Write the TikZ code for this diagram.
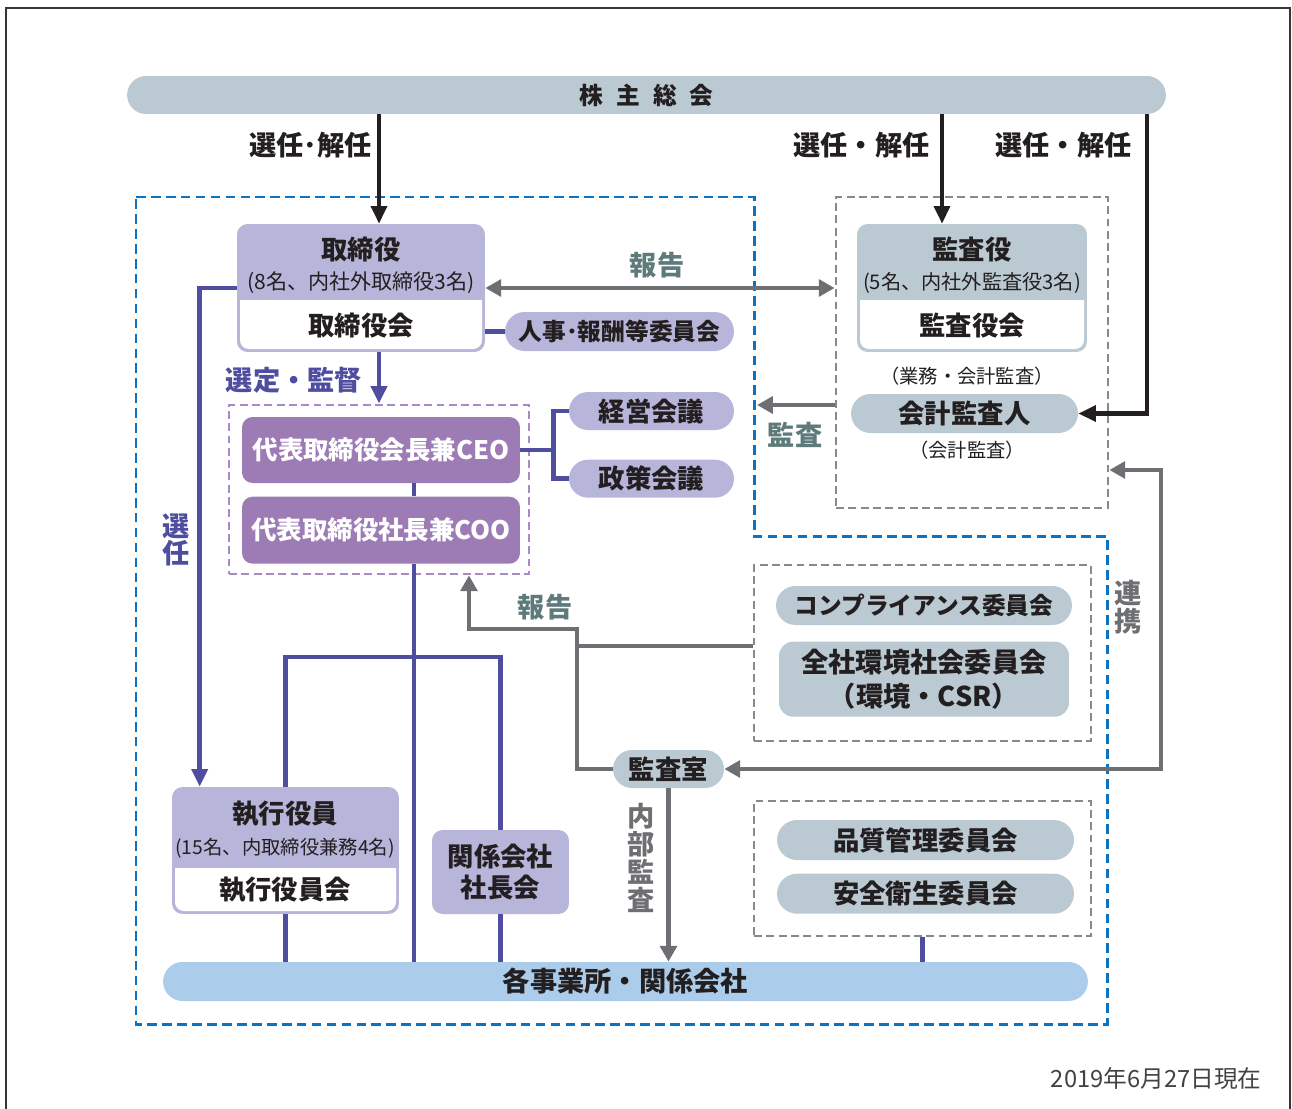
\documentclass[tikz,border=0pt]{standalone}
\usepackage{fontspec}
\setmainfont{Noto Sans CJK JP}
\usepackage{xcolor}
\usepackage{tikz}
\usetikzlibrary{positioning,arrows.meta,calc,shapes.misc}

\definecolor{lav}{HTML}{B8B5DA}
\definecolor{purp}{HTML}{9D7BB5}
\definecolor{bgray}{HTML}{BAC9D2}
\definecolor{lblue}{HTML}{ABCCEA}
\definecolor{pline}{HTML}{4F4DA0}
\definecolor{garr}{HTML}{6E6F72}
\definecolor{tgray}{HTML}{5E7A7A}
\definecolor{dblue}{HTML}{0A74C2}
\definecolor{dgray}{HTML}{898989}
\definecolor{dpurp}{HTML}{A98AC6}
\definecolor{ink}{HTML}{231F20}

\begin{document}
\begin{tikzpicture}[
  x=0.02cm, y=-0.02cm,
  block/.style={rectangle, inner sep=0pt, align=center, text=ink, font=\fontsize{15}{18}\selectfont\bfseries},
  lavbox/.style={block, fill=lav, rounded corners=6pt},
  bgbox/.style={block, fill=bgray, rounded corners=6pt},
  ceob/.style={block, fill=purp, rounded corners=6pt, text=white, font=\fontsize{14.5}{17}\selectfont\bfseries, minimum width=5.56cm},
  pill/.style={block, rounded rectangle, fill=bgray},
  lpill/.style={pill, fill=lav},
  dashb/.style={rectangle, draw=dgray, line width=1.6pt, dash pattern=on 4.5pt off 2.5pt},
  subt/.style={font=\fontsize{12}{14}\selectfont, text=ink, inner sep=0pt},
  note/.style={font=\fontsize{11}{13}\selectfont, text=ink, inner sep=0pt},
  lbl/.style={font=\fontsize{15.5}{18}\selectfont\bfseries, inner sep=0pt, align=center},
  barrow/.style={-{Triangle[length=10pt, width=9pt]}, line width=2.3pt, ink},
  parrow/.style={-{Triangle[length=10pt, width=9pt]}, line width=2.6pt, pline},
  pln/.style={line width=2.6pt, pline},
  garrow/.style={-{Triangle[length=9pt, width=9.5pt]}, line width=2.8pt, garr},
  gdarrow/.style={{Triangle[length=9pt, width=9.5pt]}-{Triangle[length=9pt, width=9.5pt]}, line width=2.8pt, garr},
  gline/.style={line width=2.8pt, garr},
]
\useasboundingbox (0,0) rectangle (1292,1109);

% Outer frame
\draw[line width=1.3pt, ink!90] (6,1109) -- (6,8) -- (1290,8) -- (1290,1109);

% Group boundaries
\draw[dblue, line width=1.7pt, dash pattern=on 5.5pt off 3pt] (136,197) -- (754,197) -- (754,536) -- (1107,536) -- (1107,1024) -- (136,1024) -- cycle;
\node[dashb, minimum width=5.44cm, minimum height=6.22cm] (kbox) at (972,352.5) {};
\node[dashb, minimum width=6.74cm, minimum height=3.52cm] (cbox) at (922.5,653) {};
\node[dashb, minimum width=6.74cm, minimum height=2.70cm] (qbox) at (922.5,868.5) {};
\node[dashb, draw=dpurp, minimum width=6.00cm, minimum height=3.38cm] (topg) at (379,489.5) {};

% Shareholders meeting (top)
\node[pill, minimum width=20.78cm, minimum height=0.76cm, font=\fontsize{13.5}{16}\selectfont\bfseries] (gm) at (646.5,95) {株\hspace{0.55em}主\hspace{0.55em}総\hspace{0.55em}会};

% Board of directors
\node[lavbox, minimum width=4.96cm, minimum height=2.56cm] (dir) at (361,288) {};
\fill[white, rounded corners=5pt] (240,300) |- (482,349) -- (482,300);
\node[block] (dirt) at (361,250) {取締役};
\node[subt] (dirn) at (361,283) {(8名、内社外取締役3名)};
\node[block] (dirkai) at (361,326) {取締役会};
\node[lpill, minimum width=4.58cm, minimum height=0.78cm, font=\fontsize{13.5}{16}\selectfont\bfseries] (hr) at (619.5,331.5) {人事･報酬等委員会};

% Top management
\node[ceob, minimum height=1.32cm] (ceo) at (381,450) {代表取締役会長兼CEO};
\node[ceob, minimum height=1.34cm, below=0.26cm of ceo] (coo) {代表取締役社長兼COO};
\node[lpill, minimum width=3.3cm, minimum height=0.76cm] (keiei) at (651.5,411) {経営会議};
\node[lpill, minimum width=3.3cm, minimum height=0.76cm, below=0.58cm of keiei] (seisaku) {政策会議};

% Auditors (right)
\node[bgbox, minimum width=4.6cm, minimum height=2.56cm] (kan) at (972,288) {};
\fill[white, rounded corners=5pt] (860,300) |- (1084,349) -- (1084,300);
\node[block] (kant) at (972,250) {監査役};
\node[subt, font=\fontsize{11.5}{14}\selectfont] (kann) at (972,283) {(5名、内社外監査役3名)};
\node[block] (kankai) at (972,326) {監査役会};
\node[note] (gyomu) at (967,376) {（業務・会計監査）};
\node[pill, minimum width=4.54cm, minimum height=0.78cm] (aud) at (964.5,413.5) {会計監査人};
\node[note] (kaikei) at (967,450) {（会計監査）};

% Committees (right)
\node[pill, minimum width=5.92cm, minimum height=0.78cm, font=\fontsize{13.5}{16}\selectfont\bfseries] (comp) at (924,605.5) {コンプライアンス委員会};
\node[bgbox, minimum width=5.8cm, minimum height=1.5cm, rounded corners=8pt, font=\fontsize{15.5}{19}\selectfont\bfseries, below=0.32cm of comp] (env) {全社環境社会委員会\\（環境・CSR）};
\node[pill, minimum width=5.94cm, minimum height=0.8cm] (qc) at (925.5,840) {品質管理委員会};
\node[pill, minimum width=5.94cm, minimum height=0.8cm, below=0.26cm of qc] (safety) {安全衛生委員会};
\node[pill, minimum width=2.22cm, minimum height=0.76cm] (room) at (668.5,769) {監査室};

% Executives
\node[lavbox, minimum width=4.54cm, minimum height=2.54cm] (exec) at (285.5,850.5) {};
\fill[white, rounded corners=5pt] (175,868) |- (396,911) -- (396,868);
\node[block] (exect) at (285,814) {執行役員};
\node[subt, font=\fontsize{11}{13}\selectfont] (execn) at (285,848) {(15名、内取締役兼務4名)};
\node[block] (execkai) at (285,890) {執行役員会};
\node[lavbox, minimum width=2.74cm, minimum height=1.68cm, font=\fontsize{15}{17.5}\selectfont\bfseries] (kk) at (500.5,872) {関係会社\\社長会};

% Sites (bottom)
\node[pill, fill=lblue, minimum width=18.5cm, minimum height=0.78cm, font=\fontsize{15.5}{18}\selectfont\bfseries] (bar) at (625.5,981.5) {各事業所・関係会社};

% Labels
\node[lbl, text=ink, anchor=east] (sk1) at (372,145) {選任･解任};
\node[lbl, text=ink, anchor=east] (sk2) at (930,145) {選任・解任};
\node[lbl, text=ink, anchor=east] (sk3) at (1132,145) {選任・解任};
\node[lbl, text=tgray] (hok1) at (657,265) {報告};
\node[lbl, text=pline] (sentei) at (294,380) {選定・監督};
\node[lbl, text=tgray] (kansa) at (795,435) {監査};
\node[lbl, text=tgray] (hok2) at (545,607) {報告};
\node[lbl, text=garr, font=\fontsize{15.5}{16}\selectfont\bfseries] (renkei) at (1128,607) {連\\携};
\node[lbl, text=garr, font=\fontsize{15.5}{16}\selectfont\bfseries] (naibu) at (641,858) {内\\部\\監\\査};
\node[lbl, text=pline, font=\fontsize{15.5}{14}\selectfont\bfseries] (sennin) at (176,540) {選\\任};
\node[font=\fontsize{13.5}{16}\selectfont, text=ink!85, anchor=east, inner sep=0pt] (date) at (1262,1078) {2019年6月27日現在};

% Arrows: appointment by shareholders
\coordinate (s2) at ($(kan.north)+(-30,0)$);
\coordinate (s3) at ($(aud.east)+(69,0)$);
\draw[barrow] (topg.north |- gm.south) -- (topg.north |- dir.north);
\draw[barrow] (s2 |- gm.south) -- (s2);
\draw[barrow] (s3 |- gm.south) -- (s3) -- (aud.east);

% Arrows: board
\draw[pln] (hr.west) -- (hr.west -| dir.east);
\draw[parrow] (topg.north |- dir.south) -- (topg.north);
\draw[parrow] (dir.west) -| ($(exec.north west)+(28,0)$);
\draw[pln] (ceo.east) -- ++(33,0) coordinate (jc);
\draw[pln] (keiei.west) -| (jc) |- (seisaku.west);
\draw[pln] ($(ceo.south)+(33,0)$) -- ($(coo.north)+(33,0)$);
\coordinate (jv) at ($(coo.south)+(33,0)$);
\draw[pln] (jv) -- (jv |- bar.north);
\coordinate (jn) at (414,657);
\draw[pln] (exec.north) |- (jn) -| (kk.north);
\draw[pln] (exec.south) -- (exec.south |- bar.north);
\draw[pln] (kk.south) -- (kk.south |- bar.north);
\draw[pln] (qbox.south) -- (qbox.south |- bar.north);

% Arrows: audit and reports
\draw[gdarrow] (dir.east) -- (dir.east -| kbox.west);
\coordinate (kt) at (757,405);
\draw[garrow] (kt -| kbox.west) -- (kt);
\coordinate (rk) at (1161,470);
\draw[gdarrow] (room.east) -| (rk) -- (rk -| kbox.east);
\coordinate (jr) at (577,646);
\coordinate (jt) at (469,629);
\draw[garrow] (room.west) -| (jt -| jr) -- (jt) -- (jt |- topg.south);
\draw[gline] (cbox.west |- jr) -- (jr);
\draw[garrow] (room.south) -- (room.south |- bar.north);

\end{tikzpicture}
\end{document}
